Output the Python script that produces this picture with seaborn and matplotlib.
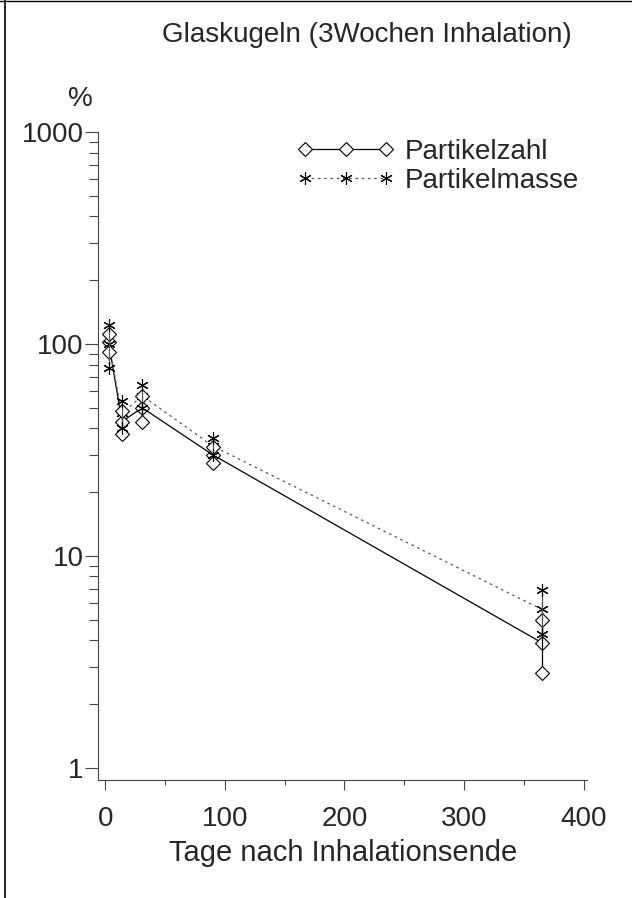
import numpy as np
import pandas as pd
import seaborn as sns
import matplotlib.pyplot as plt
from matplotlib.lines import Line2D
from matplotlib.ticker import FixedLocator, NullFormatter

# values (mean and SD in %)
tage = [3, 14, 31, 90, 365]
zahl_mittel = [102, 43, 50, 30, 3.9]
zahl_sd = [10, 5.5, 7, 2.5, 1.1]
masse_mittel = [100, 47, 57, 33, 5.6]
masse_sd = [23, 7, 7, 3, 1.3]

x_ticks = [0, 100, 200, 300, 400]
y_ticks = [1, 10, 100, 1000]

sns.set_style("ticks")
plt.rcParams["font.family"] = ["Liberation Sans", "DejaVu Sans"]

fig = plt.figure(figsize=(6.32, 8.98), dpi=100)
ax = fig.add_axes([0.155, 0.1314, 0.774, 0.7216])

star = (6, 2, 0)
grau = "#555555"
fs = 20

df_zahl = pd.DataFrame({"tage": tage, "wert": zahl_mittel})
df_masse = pd.DataFrame({"tage": tage, "wert": masse_mittel})

sns.lineplot(data=df_zahl, x="tage", y="wert", ax=ax, color="black", lw=0.9,
             marker="D", markersize=7, markerfacecolor="white",
             markeredgecolor="black", markeredgewidth=0.8)
sns.lineplot(data=df_masse, x="tage", y="wert", ax=ax, color=grau, lw=0.9,
             linestyle=(0, (2, 3)), marker=star, markersize=9,
             markeredgecolor="black", markeredgewidth=0.8)

# error bars with markers at both ends
for mittel, sd, mk, ms, col in [(zahl_mittel, zahl_sd, "D", 7, "black"),
                                (masse_mittel, masse_sd, star, 9, grau)]:
    m = np.array(mittel)
    s = np.array(sd)
    ax.errorbar(tage, m, yerr=s, fmt="none", ecolor=col, elinewidth=0.9, capsize=0)
    ends = np.concatenate([m + s, m - s])
    tt = tage + tage
    if mk == "D":
        ax.plot(tt, ends, linestyle="none", marker="D", markersize=ms,
                markerfacecolor="white", markeredgecolor="black", markeredgewidth=0.8)
    else:
        ax.plot(tt, ends, linestyle="none", marker=star, markersize=ms,
                markeredgecolor="black", markeredgewidth=0.8)

ax.set_yscale("log")
ax.set_xlim(-6, 403)
ax.set_ylim(0.877, 1000)

ax.xaxis.set_major_locator(FixedLocator(x_ticks))
ax.xaxis.set_minor_locator(FixedLocator([50, 150, 250, 350]))
ax.yaxis.set_major_locator(FixedLocator(y_ticks))
minor_y = [k * 10 ** e for e in range(0, 3) for k in range(2, 10)]
ax.yaxis.set_minor_locator(FixedLocator(minor_y))
ax.yaxis.set_minor_formatter(NullFormatter())
ax.set_yticklabels([str(v) for v in y_ticks])
ax.set_xticklabels([str(v) for v in x_ticks])

ax.tick_params(axis="both", which="major", labelsize=fs, width=0.8, color="#444444")
ax.tick_params(axis="y", which="major", length=9.5, pad=1)
ax.tick_params(axis="x", which="major", length=7, pad=12)
ax.tick_params(axis="y", which="minor", length=6.5, width=0.8, color="#444444")
ax.tick_params(axis="x", which="minor", length=3.5, width=0.8, color="#444444")

for side in ["top", "right"]:
    ax.spines[side].set_visible(False)
for side in ["left", "bottom"]:
    ax.spines[side].set_linewidth(0.8)
    ax.spines[side].set_color("#444444")

ax.set_xlabel("")
ax.set_ylabel("")
fig.text(0.543, 0.050, "Tage nach Inhalationsende", ha="center", va="center", fontsize=21)
fig.text(0.127, 0.89, "%", ha="center", va="center", fontsize=fs)
fig.text(0.58, 0.961, "Glaskugeln (3Wochen Inhalation)", ha="center", va="center", fontsize=fs)

handles = [
    Line2D([], [], color="black", lw=0.9, marker="D", markersize=7,
           markerfacecolor="white", markeredgecolor="black", markeredgewidth=0.8),
    Line2D([], [], color=grau, lw=0.9, linestyle=(0, (2, 3)), marker=star,
           markersize=9, markeredgecolor="black", markeredgewidth=0.8),
]
fig.legend(handles, ["Partikelzahl", "Partikelmasse"], loc="upper left",
           bbox_to_anchor=(0.47, 0.845), frameon=False, fontsize=fs,
           numpoints=3, handlelength=3.5, handletextpad=0.36, labelspacing=0.1,
           borderpad=0, borderaxespad=0)

# page border lines of the scan
fig.add_artist(Line2D([0.008, 0.008], [0, 1], color="black", lw=1.2))
fig.add_artist(Line2D([0, 1], [0.999, 0.999], color="black", lw=1.0))

fig.savefig("out.png", dpi=100)
